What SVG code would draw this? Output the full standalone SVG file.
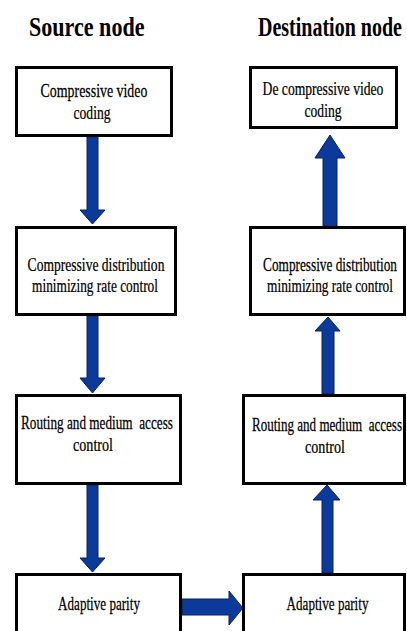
<svg xmlns="http://www.w3.org/2000/svg" width="407" height="631" viewBox="0 0 407 631">
<style>
.box{fill:#ffffff;stroke:#000000;stroke-width:3}
.arrow{fill:#0b3a9b;stroke:#06225e;stroke-width:1;stroke-linejoin:miter}
.title{font-family:"Liberation Serif","Times New Roman",serif;font-weight:bold;font-size:27px;fill:#000}
.lbl{font-family:"Liberation Serif","Times New Roman",serif;font-size:19px;fill:#000;stroke:#000;stroke-width:0.25;text-anchor:middle;white-space:pre}
</style>
<rect width="407" height="631" fill="#ffffff"/>
<text class="title" transform="translate(29,36) scale(0.818,1)">Source node</text>
<text class="title" transform="translate(258,36) scale(0.741,1)">Destination node</text>

<g id="connectors">
<polygon class="arrow" points="87,137 98,137 98,210 105,210 92.5,224 80,210 87,210"/>
<polygon class="arrow" points="87,316 98,316 98,378 105,378 92.5,393 80,378 87,378"/>
<polygon class="arrow" points="87,485 98,485 98,558 105,558 92.5,572 80,558 87,558"/>
<polygon class="arrow" points="323,226 337,226 337,158 345,158 330,135 315,158 323,158"/>
<polygon class="arrow" points="322,394 334,394 334,331 340,331 328,317 315,331 322,331"/>
<polygon class="arrow" points="322,573 333,573 333,500 340,500 327,485 313,500 322,500"/>
<polygon class="arrow" points="182,599 229,599 229,591 243,608 229,625 229,615 182,615"/>
</g>

<g id="src-coding">
<rect class="box" x="16.5" y="67.5" width="155" height="68"/>
<text class="lbl" transform="translate(94,97) scale(0.732,1)">Compressive video</text>
<text class="lbl" transform="translate(92,119) scale(0.716,1)">coding</text>
</g>
<g id="dst-coding">
<rect class="box" x="250.5" y="67.5" width="146" height="60"/>
<text class="lbl" transform="translate(323,95) scale(0.716,1)">De compressive video</text>
<text class="lbl" transform="translate(323,117) scale(0.716,1)">coding</text>
</g>
<g id="src-rate">
<rect class="box" x="16.5" y="227.5" width="159" height="87"/>
<text class="lbl" transform="translate(96,271) scale(0.715,1)">Compressive distribution</text>
<text class="lbl" transform="translate(95,292) scale(0.702,1)">minimizing rate control</text>
</g>
<g id="dst-rate">
<rect class="box" x="250.5" y="227.5" width="154" height="87"/>
<text class="lbl" transform="translate(330,271) scale(0.699,1)">Compressive distribution</text>
<text class="lbl" transform="translate(330,292) scale(0.702,1)">minimizing rate control</text>
</g>
<g id="src-mac">
<rect class="box" x="16.5" y="395.5" width="164" height="88"/>
<text class="lbl" xml:space="preserve" transform="translate(97,429) scale(0.696,1)">Routing and medium  access</text>
<text class="lbl" transform="translate(93,451) scale(0.743,1)">control</text>
</g>
<g id="dst-mac">
<rect class="box" x="243.5" y="395.5" width="161" height="88"/>
<text class="lbl" xml:space="preserve" transform="translate(327,431) scale(0.687,1)">Routing and medium  access</text>
<text class="lbl" transform="translate(325,453) scale(0.743,1)">control</text>
</g>
<g id="src-parity">
<rect class="box" x="16.5" y="574.5" width="164" height="70"/>
<text class="lbl" transform="translate(99,610) scale(0.69,1)">Adaptive parity</text>
</g>
<g id="dst-parity">
<rect class="box" x="243.5" y="574.5" width="161" height="70"/>
<text class="lbl" transform="translate(327.5,610) scale(0.69,1)">Adaptive parity</text>
</g>
</svg>
